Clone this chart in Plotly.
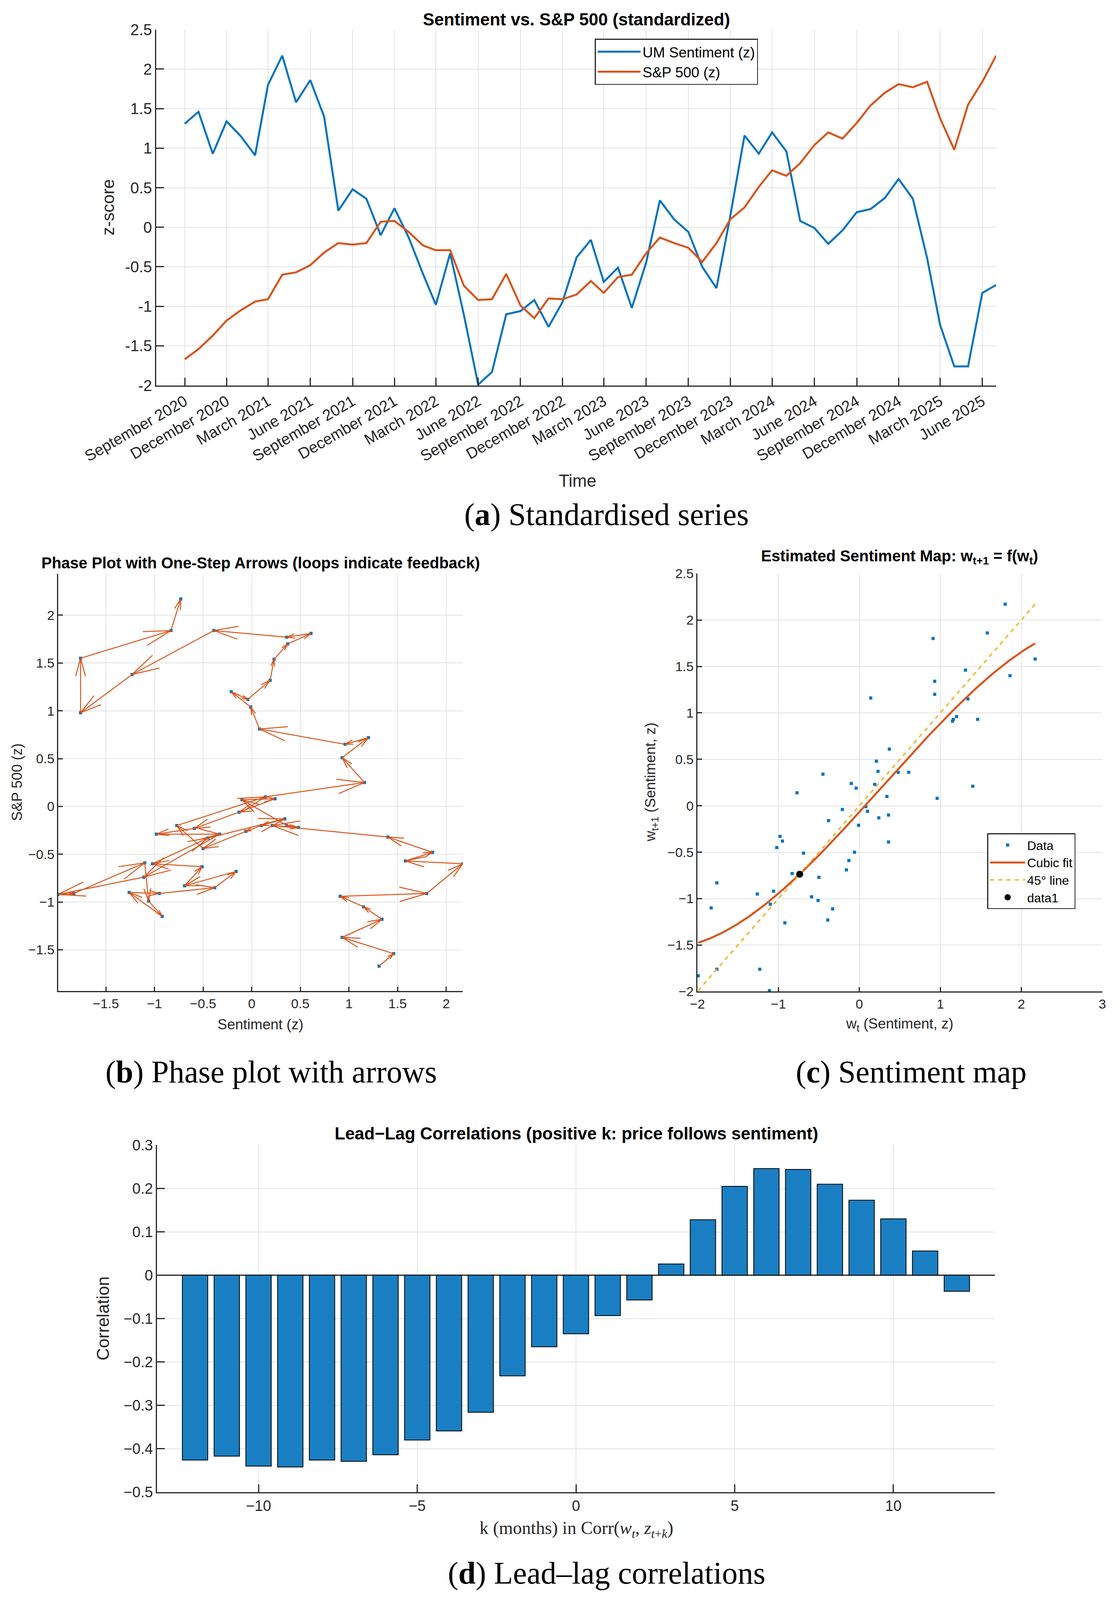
import numpy as np
import pandas as pd
import plotly.graph_objects as go

W, H = 2858, 4168  # reference canvas; positions below are given in its pixels

# ---------------- data ----------------
months = pd.date_range("2020-09-01", periods=59, freq="MS")

sentiment_z = [1.31, 1.46, 0.93, 1.34,
               1.15, 0.91, 1.80, 2.17, 1.58, 1.86, 1.40, 0.21, 0.48, 0.36, -0.10, 0.24,
               -0.13, -0.59, -0.98, -0.33, -1.11, -1.99, -1.83, -1.10, -1.06, -0.92, -1.26, -0.95,
               -0.38, -0.16, -0.69, -0.51, -1.02, -0.45, 0.34, 0.10, -0.06, -0.50, -0.77, 0.14,
               1.16, 0.93, 1.20, 0.96, 0.08, -0.01, -0.21, -0.04, 0.19, 0.23, 0.37, 0.61,
               0.36, -0.39, -1.23, -1.76, -1.76, -0.83, -0.73]

sp500_z = [-1.67, -1.54, -1.37, -1.18,
           -1.05, -0.94, -0.91, -0.60, -0.57, -0.48, -0.32, -0.20, -0.22, -0.20, 0.07, 0.08,
           -0.06, -0.23, -0.29, -0.29, -0.74, -0.92, -0.91, -0.59, -0.99, -1.15, -0.90, -0.91,
           -0.85, -0.68, -0.83, -0.63, -0.60, -0.33, -0.13, -0.20, -0.26, -0.44, -0.20, 0.10,
           0.25, 0.51, 0.72, 0.65, 0.81, 1.04, 1.20, 1.12, 1.32, 1.54, 1.70, 1.81,
           1.77, 1.84, 1.38, 0.98, 1.55, 1.84, 2.17]

date_tick_labels = ["September 2020", "December 2020", "March 2021", "June 2021",
                    "September 2021", "December 2021", "March 2022", "June 2022",
                    "September 2022", "December 2022", "March 2023", "June 2023",
                    "September 2023", "December 2023", "March 2024", "June 2024",
                    "September 2024", "December 2024", "March 2025", "June 2025"]
zscore_tick_values = [-2, -1.5, -1, -0.5, 0, 0.5, 1, 1.5, 2, 2.5]
zscore_tick_labels = ["-2", "-1.5", "-1", "-0.5", "0", "0.5", "1", "1.5", "2", "2.5"]

lags = list(range(-12, 13))
lead_lag_corr = [-0.426, -0.417, -0.440, -0.442, -0.426, -0.429, -0.414, -0.380, -0.359,
                 -0.316, -0.232, -0.165, -0.135, -0.093, -0.057, 0.026, 0.128, 0.205,
                 0.246, 0.244, 0.210, 0.173, 0.130, 0.056, -0.037]

# ---------------- style ----------------
BLUE = "#0072BD"
ORANGE = "#D95319"
YELLOW = "#EDB120"
BAR = "#1A7FC2"
AX = "#262626"
GRID = "#E3E3E3"
FONT = "Liberation Sans, Arial, sans-serif"
SERIF = "Liberation Serif, Times New Roman, serif"


def px(x):
    return x / W


def py(y):
    return 1 - y / H


s = np.array(sentiment_z)
p = np.array(sp500_z)

fig = go.Figure()

# ---------- (a) standardized series ----------
fig.add_trace(go.Scatter(x=months, y=sentiment_z, mode="lines", name="UM Sentiment (z)",
                         line=dict(color=BLUE, width=5), xaxis="x", yaxis="y", legend="legend"))
fig.add_trace(go.Scatter(x=months, y=sp500_z, mode="lines", name="S&P 500 (z)",
                         line=dict(color=ORANGE, width=5), xaxis="x", yaxis="y", legend="legend"))

# ---------- (b) phase plot ----------
fig.add_trace(go.Scatter(x=s, y=p, mode="markers", showlegend=False,
                         marker=dict(symbol="square", size=8, color=BLUE),
                         xaxis="x2", yaxis="y2"))
fig.add_trace(go.Scatter(x=s, y=p, mode="lines", showlegend=False,
                         line=dict(color=ORANGE, width=2.5), xaxis="x2", yaxis="y2"))
hx, hy = [], []
for i in range(len(s) - 1):
    u, v = s[i + 1] - s[i], p[i + 1] - p[i]
    L = float(np.hypot(u, v))
    if L == 0:
        continue
    ux, uy = u / L, v / L
    hl = min(0.33 * L, 0.28)
    w = 0.27 * hl
    bx, by = s[i + 1] - hl * ux, p[i + 1] - hl * uy
    hx += [bx - w * uy, s[i + 1], bx + w * uy, None]
    hy += [by + w * ux, p[i + 1], by - w * ux, None]
fig.add_trace(go.Scatter(x=hx, y=hy, mode="lines", showlegend=False,
                         line=dict(color=ORANGE, width=2.5), xaxis="x2", yaxis="y2"))

# ---------- (c) sentiment map ----------
wt, wt1 = s[:-1], s[1:]
coef = np.polyfit(wt, wt1, 3)
xx = np.linspace(wt.min(), wt.max(), 300)
fig.add_trace(go.Scatter(x=wt, y=wt1, mode="markers", name="Data",
                         marker=dict(symbol="square", size=8, color=BLUE),
                         xaxis="x3", yaxis="y3", legend="legend2"))
fig.add_trace(go.Scatter(x=xx, y=np.polyval(coef, xx), mode="lines", name="Cubic fit",
                         line=dict(color=ORANGE, width=5), xaxis="x3", yaxis="y3", legend="legend2"))
fig.add_trace(go.Scatter(x=[wt.min(), wt.max()], y=[wt.min(), wt.max()], mode="lines", name="45° line",
                         line=dict(color=YELLOW, width=3.5, dash="dash"),
                         xaxis="x3", yaxis="y3", legend="legend2"))
roots = np.roots(coef - np.array([0, 0, 1, 0]))
fixed = [r.real for r in roots if abs(r.imag) < 1e-9 and wt.min() <= r.real <= wt.max()]
fig.add_trace(go.Scatter(x=fixed, y=np.polyval(coef, fixed), mode="markers", name="data1",
                         marker=dict(symbol="circle", size=18, color="black"),
                         xaxis="x3", yaxis="y3", legend="legend2"))

# ---------- (d) lead-lag bars ----------
fig.add_trace(go.Bar(x=lags, y=lead_lag_corr, width=0.8, showlegend=False,
                     marker=dict(color=BAR, line=dict(color="black", width=2)),
                     xaxis="x4", yaxis="y4"))


def axis(size, ticklen=20, **kw):
    d = dict(showline=True, linecolor=AX, linewidth=2.5, mirror=False, automargin=False,
             ticks="inside", tickcolor=AX, ticklen=ticklen, tickwidth=2.5,
             showgrid=True, gridcolor=GRID, gridwidth=2, zeroline=False,
             tickfont=dict(family=FONT, size=size, color=AX))
    d.update(kw)
    return d


# phase plot: equal aspect, tight x
xr2 = [float(s.min()), float(s.max())]
ppu = (1185 - 149) / (xr2[1] - xr2[0])
yc = (p.min() + p.max()) / 2
yh = (2582 - 1495) / ppu / 2
yr2 = [float(yc - yh), float(yc + yh)]

fig.update_layout(
    autosize=True, margin=dict(l=0, r=0, t=0, b=0, pad=0, autoexpand=False),
    paper_bgcolor="white", plot_bgcolor="white",
    font=dict(family=FONT, color=AX),
    xaxis=axis(40, domain=[px(400), px(2551)], anchor="y", type="date",
               range=["2020-07-01", "2025-07-01"],
               tickvals=list(months[::3]), ticktext=date_tick_labels, tickangle=-30),
    yaxis=axis(40, domain=[py(1004), py(77)], anchor="x", range=[-2, 2.5],
               tickvals=zscore_tick_values, ticktext=zscore_tick_labels),
    xaxis2=axis(34, ticklen=12, domain=[px(149), px(1185)], anchor="y2", range=xr2, dtick=0.5, tick0=0),
    yaxis2=axis(34, ticklen=12, domain=[py(2582), py(1495)], anchor="x2", range=yr2, dtick=0.5, tick0=0),
    xaxis3=axis(34, ticklen=12, domain=[px(1786), px(2823)], anchor="y3", range=[-2, 3], dtick=1, tick0=0),
    yaxis3=axis(34, ticklen=12, domain=[py(2583), py(1494)], anchor="x3", range=[-2, 2.5], dtick=0.5, tick0=0),
    xaxis4=axis(38, domain=[px(402), px(2548)], anchor="y4", range=[-13.2, 13.2], dtick=5, tick0=0),
    yaxis4=axis(38, domain=[py(3887), py(2983)], anchor="x4", range=[-0.5, 0.3], dtick=0.1, tick0=0,
                zeroline=True, zerolinecolor=AX, zerolinewidth=2.5),
    legend=dict(x=px(1523), y=py(101), xanchor="left", yanchor="top", bgcolor="white",
                bordercolor=AX, borderwidth=2.5, itemwidth=110, tracegroupgap=0,
                entrywidth=330, entrywidthmode="pixels",
                font=dict(family=FONT, size=37, color="black")),
    legend2=dict(x=px(2528), y=py(2171), xanchor="left", yanchor="top", bgcolor="white",
                 bordercolor=AX, borderwidth=2.5, itemwidth=90, tracegroupgap=0,
                 entrywidth=145, entrywidthmode="pixels",
                 font=dict(family=FONT, size=32, color="black")),
    bargap=0.2,
)

ann = []


def text(x, y, t, size, family=FONT, angle=0, color="black"):
    ann.append(dict(x=px(x), y=py(y), xref="paper", yref="paper", text=t, showarrow=False,
                    xanchor="center", yanchor="middle", textangle=angle,
                    font=dict(family=family, size=size, color=color)))


# titles
text(1476, 50, "<b>Sentiment vs. S&P 500 (standardized)</b>", 44)
text(667, 1466, "<b>Phase Plot with One-Step Arrows (loops indicate feedback)</b>", 40)
text(2304, 1451, "<b>Estimated Sentiment Map: w<sub>t+1</sub> = f(w<sub>t</sub>)</b>", 40)
text(1476, 2953, "<b>Lead−Lag Correlations (positive k: price follows sentiment)</b>", 44)
# axis labels
text(277, 540, "z-score", 44, angle=-90, color=AX)
text(1479, 1252, "Time", 44, color=AX)
text(44, 2038, "S&P 500 (z)", 37, angle=-90, color=AX)
text(667, 2669, "Sentiment (z)", 37, color=AX)
text(1668, 2038, "w<sub>t+1</sub> (Sentiment, z)", 37, angle=-90, color=AX)
text(2304, 2669, "w<sub>t</sub> (Sentiment, z)", 37, color=AX)
text(264, 3435, "Correlation", 44, angle=-90, color=AX)
text(1476, 3984, "k (months) in Corr(<i>w</i><sub><i>t</i></sub>, <i>z</i><sub><i>t</i>+<i>k</i></sub>)",
     46, family=SERIF, color=AX)
# captions
text(1554, 1341, "(<b>a</b>) Standardised series", 80, family=SERIF)
text(694, 2793, "(<b>b</b>) Phase plot with arrows", 80, family=SERIF)
text(2333, 2793, "(<b>c</b>) Sentiment map", 80, family=SERIF)
text(1553, 4098, "(<b>d</b>) Lead–lag correlations", 80, family=SERIF)

fig.update_layout(annotations=ann)

fig.write_html(
    "out.html",
    default_width="100vw",
    default_height="100vh",
    config={"displayModeBar": False, "responsive": True},
    post_script=("document.documentElement.style.margin='0';"
                 "document.body.style.margin='0';"
                 "document.body.style.overflow='hidden';"
                 "Plotly.Plots.resize(document.getElementById('{plot_id}'));"),
)
